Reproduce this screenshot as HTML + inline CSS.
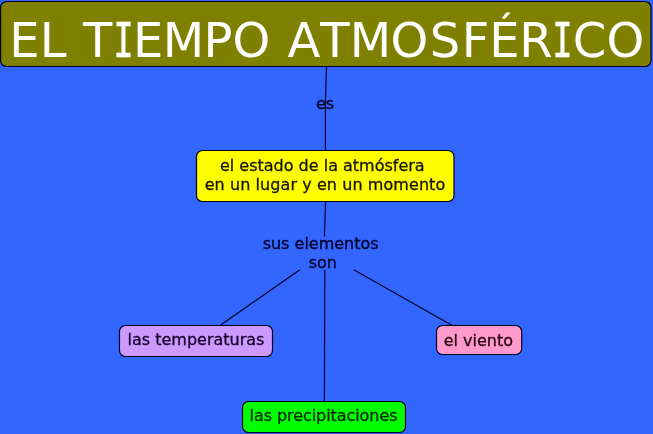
<!DOCTYPE html>
<html lang="es">
<head>
<meta charset="utf-8">
<title>EL TIEMPO ATMOSFÉRICO</title>
<style>
html,body{margin:0;padding:0;background:#3366ff;overflow:hidden;}
svg{display:block;will-change:transform;}
text{font-family:"DejaVu Sans","Liberation Sans",sans-serif;fill:#000;}
.n{stroke:#000020;stroke-width:1.2;}
.l{stroke:#000026;stroke-width:1.2;fill:none;}
.t{font-size:16px;stroke:#000;stroke-width:0.3px;}
.si{font-family:"DejaVu Sans Mono","Liberation Mono",monospace;stroke:#fff;stroke-width:0.6px;}
</style>
</head>
<body>
<svg width="653" height="434" viewBox="0 0 653 434">
<desc>EL TIEMPO ATMOSFÉRICO es el estado de la atmósfera en un lugar y en un momento; sus elementos son las temperaturas, las precipitaciones, el viento</desc>
<rect width="653" height="434" fill="#3366ff"/>
<!-- connectors -->
<g class="l">
<line x1="326.5" y1="66" x2="325.4" y2="103"/>
<line x1="325.4" y1="103" x2="325.4" y2="151"/>
<line x1="325.6" y1="201" x2="324.4" y2="236.5"/>
<line x1="299.9" y1="269.8" x2="220.3" y2="325.2"/>
<line x1="324.8" y1="270" x2="324.4" y2="402"/>
<line x1="353.8" y1="269.8" x2="451.8" y2="325.2"/>
</g>
<!-- title -->
<rect class="n" x="0.6" y="1.5" width="650.4" height="65" rx="6" ry="6" fill="#808000"/>
<text y="57" font-size="48" style="fill:#fff" x="9.34 39.63 66.5 83 113.5 132.9 162.8 203.53 232.61 270.5 287.58 320.2 349.8 390.61 429.76 461.7 489.34 519.32 552.5 572.74 606.61">EL T<tspan class="si" textLength="20" lengthAdjust="spacingAndGlyphs">I</tspan>EMPO ATMOSFÉR<tspan class="si" textLength="20" lengthAdjust="spacingAndGlyphs">I</tspan>CO</text>
<!-- labels -->
<text class="t" x="315.95" y="108.7" style="fill:#00002b;stroke:#00002b">es</text>
<text class="t" x="262.65" y="249.1" style="fill:#00002b;stroke:#00002b">sus elementos</text>
<text class="t" x="308.65" y="268.3" style="fill:#00002b;stroke:#00002b">son</text>
<!-- yellow node -->
<rect class="n" x="196.5" y="150.5" width="257.5" height="51" rx="6" ry="6" fill="#ffff00"/>
<text class="t" x="219.95" y="171.1" style="fill:#141400;stroke:#141400">el estado de la atmósfera</text>
<text class="t" x="204.65" y="190.4" textLength="240.6" lengthAdjust="spacing" style="fill:#141400;stroke:#141400">en un lugar y en un momento</text>
<!-- purple node -->
<rect class="n" x="119.5" y="325.5" width="153" height="31" rx="6" ry="6" fill="#cc99ff"/>
<text class="t" x="127.55" y="345.1" style="fill:#140028;stroke:#140028">las temperaturas</text>
<!-- pink node -->
<rect class="n" x="436.5" y="325.5" width="85.2" height="29" rx="6" ry="6" fill="#ff99cc"/>
<text class="t" x="443.7" y="345.9" style="fill:#28000f;stroke:#28000f">el viento</text>
<!-- green node -->
<rect class="n" x="242.5" y="401.5" width="163" height="31" rx="6" ry="6" fill="#00ff00"/>
<text class="t" x="249.5" y="421.1" textLength="148" lengthAdjust="spacing" style="fill:#002800;stroke:#002800">las precipitaciones</text>
</svg>
</body>
</html>
